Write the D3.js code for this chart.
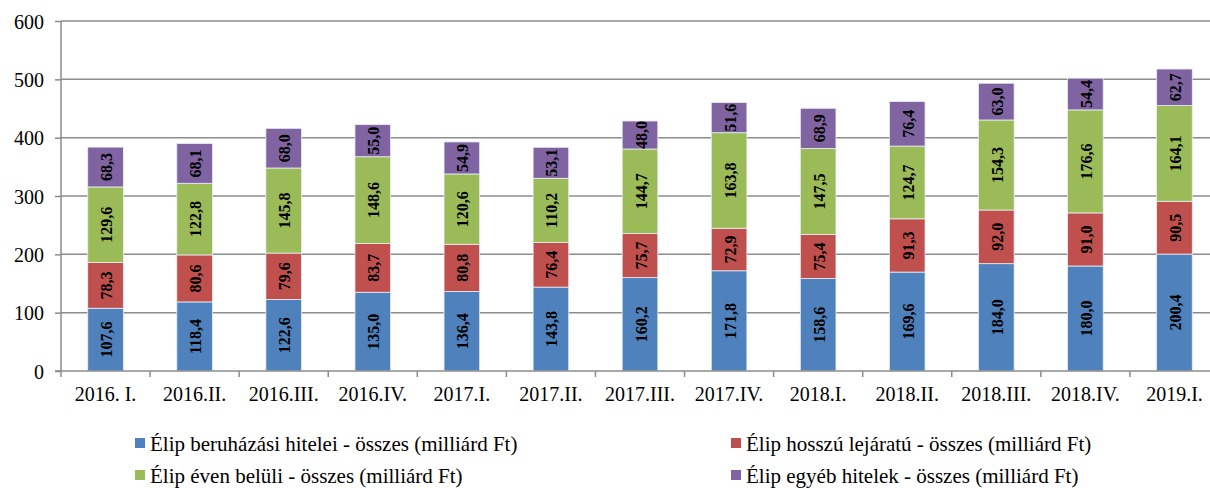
<!DOCTYPE html>
<html><head><meta charset="utf-8">
<script src="https://cdn.jsdelivr.net/npm/d3@7"></script>
<style>body{margin:0;background:#fff}svg{display:block}</style>
</head><body><svg id="c" width="1210" height="488"></svg>
<script>
const categories=["2016. I.","2016.II.","2016.III.","2016.IV.","2017.I.","2017.II.","2017.III.","2017.IV.","2018.I.","2018.II.","2018.III.","2018.IV.","2019.I."];
const beruhazasi=[107.6,118.4,122.6,135.0,136.4,143.8,160.2,171.8,158.6,169.6,184.0,180.0,200.4];
const hosszu=[78.3,80.6,79.6,83.7,80.8,76.4,75.7,72.9,75.4,91.3,92.0,91.0,90.5];
const evenBeluli=[129.6,122.8,145.8,148.6,120.6,110.2,144.7,163.8,147.5,124.7,154.3,176.6,164.1];
const egyeb=[68.3,68.1,68.0,55.0,54.9,53.1,48.0,51.6,68.9,76.4,63.0,54.4,62.7];
const seriesNames=["Élip beruházási hitelei - összes (milliárd Ft)","Élip hosszú lejáratú - összes (milliárd Ft)","Élip éven belüli - összes (milliárd Ft)","Élip egyéb hitelek - összes (milliárd Ft)"];
const yTicks=[0,100,200,300,400,500,600];

(function(){
const colors=["#4F81BD","#C0504D","#9BBB59","#8064A2"];
const series=[beruhazasi,hosszu,evenBeluli,egyeb];
const svg=d3.select("#c");
const pL=61,pR=1219,pT=21,pB=371;
const x=d3.scaleBand().domain(categories).range([pL,pR]).paddingInner(0.6).paddingOuter(0.3);
const xb=d3.scaleBand().domain(categories).range([pL,pR]);
const y=d3.scaleLinear().domain([0,600]).range([pB,pT]);
const font="'Liberation Serif','Times New Roman',serif";

svg.append("g").selectAll("line").data(yTicks.slice(1)).join("line")
 .attr("x1",pL).attr("x2",pR).attr("y1",d=>y(d)).attr("y2",d=>y(d))
 .attr("stroke","#8c8c8c").attr("stroke-width",1.5);

const rows=categories.map((c,i)=>({cat:c,s0:series[0][i],s1:series[1][i],s2:series[2][i],s3:series[3][i]}));
const stack=d3.stack().keys(["s0","s1","s2","s3"])(rows);
const g=svg.append("g");
stack.forEach((layer,k)=>{
  g.append("g").selectAll("rect").data(layer).join("rect")
   .attr("x",d=>x(d.data.cat)).attr("width",x.bandwidth())
   .attr("y",d=>y(d[1])).attr("height",d=>y(d[0])-y(d[1]))
   .attr("fill",colors[k]).attr("stroke","#e8eef6").attr("stroke-width",0.8);
});
stack.forEach((layer,k)=>{
  g.append("g").selectAll("text").data(layer).join("text")
   .attr("transform",d=>`translate(${x(d.data.cat)+x.bandwidth()/2+1},${(y(d[0])+y(d[1]))/2}) rotate(-90)`)
   .attr("text-anchor","middle").attr("dominant-baseline","central")
   .style("font-family",font).style("font-weight","bold").style("font-size","16px").attr("fill","#000")
   .text(d=>d3.format(".1f")(d[1]-d[0]).replace(".",","));
});

const ya=svg.append("g").attr("transform",`translate(${pL},0)`).call(d3.axisLeft(y).tickValues(yTicks).tickSize(6).tickFormat(d3.format("d")));
ya.select(".domain").attr("stroke","#8c8c8c").attr("stroke-width",1.5).attr("d",`M0,${pT}V${pB}`);
ya.selectAll(".tick line").attr("stroke","#8c8c8c").attr("stroke-width",1.5);
ya.selectAll("text").style("font-family",font).style("font-size","20px").attr("fill","#000").attr("x",-17).attr("dy","0.35em");

const xa=svg.append("g").attr("transform",`translate(0,${pB})`);
xa.append("line").attr("x1",pL-6).attr("x2",pR).attr("y1",0).attr("y2",0).attr("stroke","#8c8c8c").attr("stroke-width",1.5);
xa.selectAll("line.t").data(categories.concat(["_end"])).join("line").attr("class","t")
 .attr("x1",(d,i)=>pL+i*xb.bandwidth()).attr("x2",(d,i)=>pL+i*xb.bandwidth())
 .attr("y1",0).attr("y2",6).attr("stroke","#8c8c8c").attr("stroke-width",1.5);
xa.selectAll("text").data(categories).join("text")
 .attr("x",d=>xb(d)+xb.bandwidth()/2).attr("y",30)
 .attr("text-anchor","middle").style("font-family",font).style("font-size","20px").attr("fill","#000").text(d=>d);

const legPos=[[135,451],[731,451],[135,483],[731,483]];
const lg=svg.append("g");
seriesNames.forEach((n,i)=>{
  const [lx,ly]=legPos[i];
  lg.append("rect").attr("x",lx).attr("y",ly-13).attr("width",10).attr("height",10).attr("fill",colors[i]);
  lg.append("text").attr("x",lx+15).attr("y",ly)
   .style("font-family",font).style("font-size","21px").attr("fill","#000").text(n);
});
})();
</script></body></html>
